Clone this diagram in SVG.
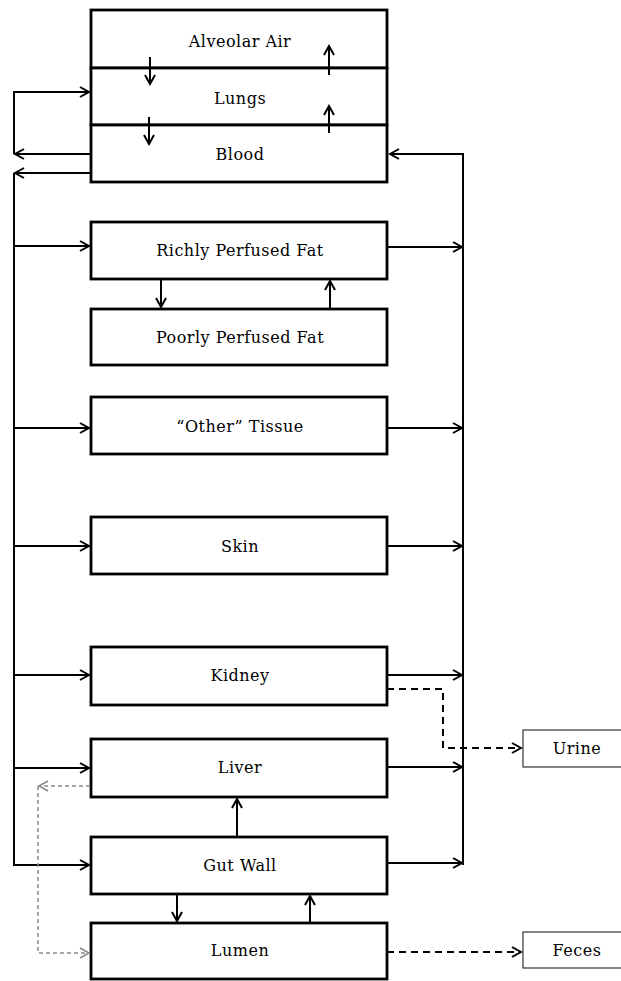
<svg xmlns="http://www.w3.org/2000/svg" width="621" height="981" viewBox="0 0 621 981">
<style>
.box{fill:#fff;stroke:#000;stroke-width:2.8}
.sbox{fill:#fff;stroke:#333;stroke-width:1.2}
.t{font-family:'DejaVu Serif','Liberation Serif',serif;font-size:16px;letter-spacing:0.5px;fill:#000;text-anchor:middle}
.c{fill:none;stroke:#000;stroke-width:2}
.d{fill:none;stroke:#000;stroke-width:2;stroke-dasharray:7,5}
.g{fill:none;stroke:#888;stroke-width:1.5;stroke-dasharray:4,3}
</style>
<defs>
<marker id="a" markerWidth="12" markerHeight="12" refX="10" refY="6" orient="auto" markerUnits="userSpaceOnUse"><path d="M1,1 L10,6 L1,11" fill="none" stroke="#000" stroke-width="2"/></marker>
<marker id="ag" markerWidth="12" markerHeight="12" refX="10" refY="6" orient="auto" markerUnits="userSpaceOnUse"><path d="M1,1 L10,6 L1,11" fill="none" stroke="#888" stroke-width="1.5"/></marker>
</defs>
<g id="alveolar"><rect class="box" x="91" y="10" width="296" height="58"/><text class="t" x="240" y="47">Alveolar Air</text></g>
<g id="lungs"><rect class="box" x="91" y="68" width="296" height="57"/><text class="t" x="240" y="104">Lungs</text></g>
<g id="blood"><rect class="box" x="91" y="125" width="296" height="57"/><text class="t" x="240" y="160">Blood</text></g>
<g id="rich"><rect class="box" x="91" y="222" width="296" height="57"/><text class="t" x="240" y="256">Richly Perfused Fat</text></g>
<g id="poor"><rect class="box" x="91" y="309" width="296" height="56"/><text class="t" x="240" y="343">Poorly Perfused Fat</text></g>
<g id="other"><rect class="box" x="91" y="397" width="296" height="57"/><text class="t" x="240" y="432">“Other” Tissue</text></g>
<g id="skin"><rect class="box" x="91" y="517" width="296" height="57"/><text class="t" x="240" y="552">Skin</text></g>
<g id="kidney"><rect class="box" x="91" y="647" width="296" height="58"/><text class="t" x="240" y="681">Kidney</text></g>
<g id="liver"><rect class="box" x="91" y="739" width="296" height="58"/><text class="t" x="240" y="773">Liver</text></g>
<g id="gutwall"><rect class="box" x="91" y="837" width="296" height="57"/><text class="t" x="240" y="871">Gut Wall</text></g>
<g id="lumen"><rect class="box" x="91" y="923" width="296" height="56"/><text class="t" x="240" y="956">Lumen</text></g>
<g id="urine"><rect class="sbox" x="523" y="730" width="100" height="37"/><text class="t" x="577" y="754">Urine</text></g>
<g id="feces"><rect class="sbox" x="523" y="932" width="100" height="36"/><text class="t" x="577" y="956">Feces</text></g>
<g id="connectors">
<line class="c" x1="150" y1="57" x2="150" y2="84" marker-end="url(#a)"/>
<line class="c" x1="149" y1="117" x2="149" y2="144" marker-end="url(#a)"/>
<line class="c" x1="329" y1="75" x2="329" y2="46" marker-end="url(#a)"/>
<line class="c" x1="329" y1="133" x2="329" y2="106" marker-end="url(#a)"/>
<line class="c" x1="91" y1="154" x2="15" y2="154" marker-end="url(#a)"/>
<polyline class="c" points="14,154 14,92 89,92" marker-end="url(#a)"/>
<line class="c" x1="91" y1="173" x2="15" y2="173" marker-end="url(#a)"/>
<polyline class="c" points="14,173 14,865 89,865" marker-end="url(#a)"/>
<line class="c" x1="14" y1="246" x2="89" y2="246" marker-end="url(#a)"/>
<line class="c" x1="14" y1="428" x2="89" y2="428" marker-end="url(#a)"/>
<line class="c" x1="14" y1="546" x2="89" y2="546" marker-end="url(#a)"/>
<line class="c" x1="14" y1="675" x2="89" y2="675" marker-end="url(#a)"/>
<line class="c" x1="14" y1="768" x2="89" y2="768" marker-end="url(#a)"/>
<polyline class="c" points="463,865 463,154 390,154" marker-end="url(#a)"/>
<line class="c" x1="387" y1="247" x2="462" y2="247" marker-end="url(#a)"/>
<line class="c" x1="387" y1="428" x2="462" y2="428" marker-end="url(#a)"/>
<line class="c" x1="387" y1="546" x2="462" y2="546" marker-end="url(#a)"/>
<line class="c" x1="387" y1="675" x2="462" y2="675" marker-end="url(#a)"/>
<line class="c" x1="387" y1="767" x2="462" y2="767" marker-end="url(#a)"/>
<line class="c" x1="387" y1="863" x2="462" y2="863" marker-end="url(#a)"/>
<line class="c" x1="161" y1="279" x2="161" y2="307" marker-end="url(#a)"/>
<line class="c" x1="330" y1="309" x2="330" y2="281" marker-end="url(#a)"/>
<line class="c" x1="237" y1="837" x2="237" y2="799" marker-end="url(#a)"/>
<line class="c" x1="177" y1="894" x2="177" y2="921" marker-end="url(#a)"/>
<line class="c" x1="310" y1="923" x2="310" y2="896" marker-end="url(#a)"/>
<polyline class="d" points="387,689 443,689 443,748 521,748" marker-end="url(#a)"/>
<line class="d" x1="387" y1="952" x2="521" y2="952" marker-end="url(#a)"/>
<line class="g" x1="90" y1="786" x2="39" y2="786" marker-end="url(#ag)"/>
<polyline class="g" points="38,786 38,953 89,953" marker-end="url(#ag)"/>
</g>
</svg>
